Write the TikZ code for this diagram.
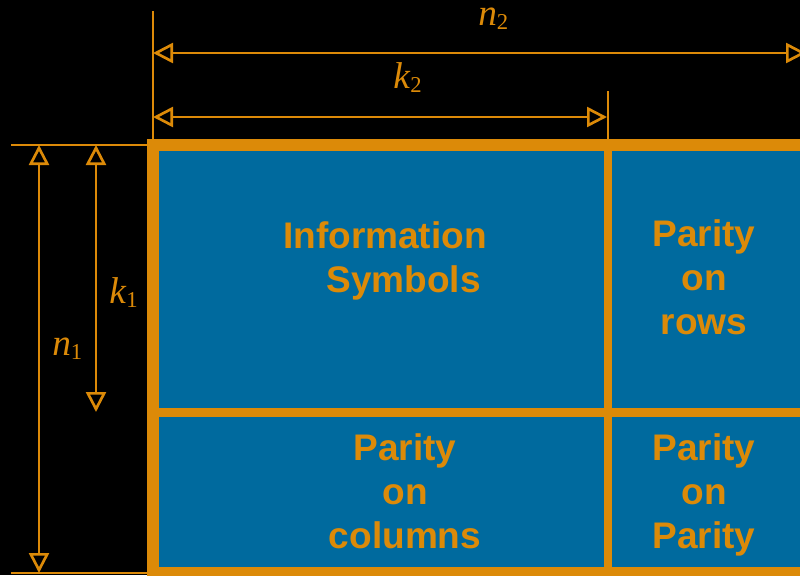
\documentclass[tikz,border=0pt]{standalone}
\usepackage{fontspec}
\setmainfont{Liberation Serif}
\newfontfamily\cellfont{Liberation Sans}
\usetikzlibrary{arrows.meta}
\definecolor{codeorange}{RGB}{220,138,8}
\definecolor{codeblue}{RGB}{0,106,158}
\newcommand{\dimlbl}[2]{\textit{#1}\raisebox{-3.5pt}{\fontsize{17}{17}\selectfont #2}}

\begin{document}
\begin{tikzpicture}[x=0.75pt,y=-0.75pt,>={Triangle[open,length=15pt,width=15pt]},
  dimline/.style={draw=codeorange,line width=2pt},
  dimlabel/.style={text=codeorange,anchor=base west,inner sep=0pt,font=\fontsize{28}{28}\selectfont},
  celltext/.style={text=codeorange,anchor=base,align=center,inner sep=0pt,font=\cellfont\bfseries\fontsize{27.75}{33}\selectfont}]
  \useasboundingbox (0,0) rectangle (800,575);
  \fill[black] (0,0) rectangle (800,575);
  % product code block
  \fill[codeorange] (147,139) rectangle (812,590);
  \fill[codeblue] (159,151) rectangle (604,408);
  \fill[codeblue] (612,151) rectangle (812,408);
  \fill[codeblue] (159,417) rectangle (604,567);
  \fill[codeblue] (612,417) rectangle (812,567);
  % base anchor = baseline of the last line
  \node[celltext] (info) at (385,292) {Information\\\hspace*{1em}Symbols};
  \node[celltext] (rows) at (704,334) {Parity\\on\\rows};
  \node[celltext] (cols) at (405,548) {Parity\\on\\columns};
  \node[celltext] (pp) at (704,548) {Parity\\on\\Parity};
  % extension lines
  \coordinate (ext top) at (153,11);
  \coordinate (ext nw) at (153,139);
  \coordinate (ext k2 top) at (608,91);
  \coordinate (ext k2 bot) at (608,139);
  \coordinate (ext left) at (11,145);
  \coordinate (ext right) at (147,145);
  \coordinate (ext bl) at (11,573);
  \coordinate (ext br) at (147,573);
  \draw[dimline] (ext top) -- (ext nw);
  \draw[dimline] (ext k2 top) -- (ext k2 bot);
  \draw[dimline] (ext left) -- (ext right);
  \draw[dimline] (ext bl) -- (ext br);
  % dimension arrows
  \coordinate (n2 a) at (153,53);
  \coordinate (n2 b) at (806,53);
  \coordinate (k2 a) at (153,117);
  \coordinate (k2 b) at (607,117);
  \coordinate (n1 a) at (39,145);
  \coordinate (n1 b) at (39,573);
  \coordinate (k1 a) at (96,145);
  \coordinate (k1 b) at (96,412);
  \draw[dimline,<->] (n2 a) -- (n2 b);
  \draw[dimline,<->] (k2 a) -- (k2 b);
  \draw[dimline,<->] (n1 a) -- (n1 b);
  \draw[dimline,<->] (k1 a) -- (k1 b);
  \node[dimlabel] (n2) at (478,25) {\dimlbl{n}{2}};
  \node[dimlabel] (k2) at (393,88) {\dimlbl{k}{2}};
  \node[dimlabel] (k1) at (109,303) {\dimlbl{k}{1}};
  \node[dimlabel] (n1) at (52,355) {\dimlbl{n}{1}};
\end{tikzpicture}
\end{document}
